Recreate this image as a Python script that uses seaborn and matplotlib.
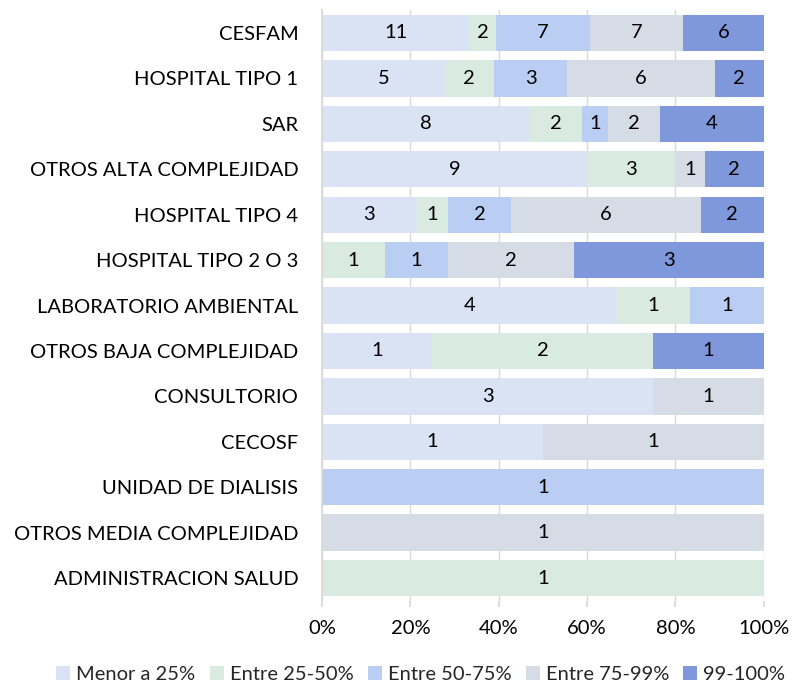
import matplotlib
matplotlib.use("Agg")
import matplotlib.pyplot as plt
import seaborn as sns
import numpy as np
import pandas as pd
from matplotlib.patches import Patch

categories = ["CESFAM", "HOSPITAL TIPO 1", "SAR", "OTROS ALTA COMPLEJIDAD", "HOSPITAL TIPO 4",
              "HOSPITAL TIPO 2 O 3", "LABORATORIO AMBIENTAL", "OTROS BAJA COMPLEJIDAD",
              "CONSULTORIO", "CECOSF", "UNIDAD DE DIALISIS", "OTROS MEDIA COMPLEJIDAD",
              "ADMINISTRACION SALUD"]
series_names = ["Menor a 25%", "Entre 25-50%", "Entre 50-75%", "Entre 75-99%", "99-100%"]
menor_25 = [11, 5, 8, 9, 3, 0, 4, 1, 3, 1, 0, 0, 0]
entre_25_50 = [2, 2, 2, 3, 1, 1, 1, 2, 0, 0, 0, 0, 1]
entre_50_75 = [7, 3, 1, 0, 2, 1, 1, 0, 0, 0, 1, 0, 0]
entre_75_99 = [7, 6, 2, 1, 6, 2, 0, 0, 1, 1, 0, 1, 0]
entre_99_100 = [6, 2, 4, 2, 2, 3, 0, 1, 0, 0, 0, 0, 0]
x_ticks = [0, 20, 40, 60, 80, 100]
x_tick_labels = ["0%", "20%", "40%", "60%", "80%", "100%"]

colors = ["#DAE3F3", "#D9EBE0", "#BACEF3", "#D6DCE5", "#7F98DC"]

sns.set_theme(style="white")
plt.rcParams["font.family"] = ["Lato", "DejaVu Sans"]
FS = 14.5

counts = np.array([menor_25, entre_25_50, entre_50_75, entre_75_99, entre_99_100], dtype=float)
totals = counts.sum(axis=0)
pct = counts / totals * 100
cum = np.cumsum(pct, axis=0)

fig = plt.figure(figsize=(7.94, 6.86), dpi=100)
ax = fig.add_axes([0.4055, 0.1243, 0.5565, 0.8607])

for ax_i in range(0, 101, 20):
    ax.axvline(ax_i, color="#D9D9D9", lw=1, zorder=0)

for i in reversed(range(len(series_names))):
    df = pd.DataFrame({"cat": categories, "val": cum[i]})
    sns.barplot(data=df, x="val", y="cat", color=colors[i], saturation=1,
                width=0.8, ax=ax, zorder=2, edgecolor="none", linewidth=0)

for i in range(len(series_names)):
    start = cum[i] - pct[i]
    for j in range(len(categories)):
        if counts[i, j] > 0:
            ax.text(start[j] + pct[i, j] / 2, j, f"{int(counts[i, j])}",
                    ha="center", va="center", fontsize=FS, color="#000000", zorder=5)

ax.set_xlim(0, 100)
ax.set_ylim(len(categories) - 0.5, -0.5)
ax.set_xticks(x_ticks)
ax.set_xticklabels(x_tick_labels, fontsize=FS, color="#000000")
ax.tick_params(axis="y", labelsize=FS, colors="#000000", length=0, pad=17)
ax.tick_params(axis="x", length=4, color="#D9D9D9", pad=10, bottom=True)
ax.set_xlabel("")
ax.set_ylabel("")
for s in ["top", "right", "bottom"]:
    ax.spines[s].set_visible(False)
ax.spines["left"].set_color("#D9D9D9")
ax.spines["left"].set_zorder(3)
for lbl in ax.get_yticklabels():
    lbl.set_color("#000000")

handles = [Patch(facecolor=c, edgecolor="none") for c in colors]
fig.legend(handles, series_names, loc="lower center", bbox_to_anchor=(0.53, -0.022), ncol=5,
           frameon=False, fontsize=FS, handlelength=0.7, handleheight=0.7,
           handletextpad=0.3, columnspacing=0.7)

fig.savefig("out.png", dpi=100)
